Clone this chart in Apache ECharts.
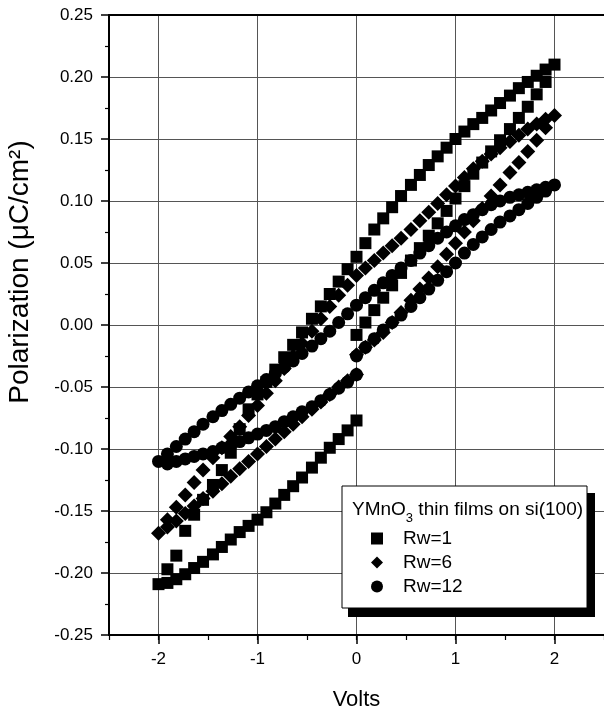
<!DOCTYPE html>
<html>
<head>
<meta charset="utf-8">
<script src="https://cdn.jsdelivr.net/npm/echarts@6/dist/echarts.min.js"></script>
<style>
html,body{margin:0;padding:0;background:#fff;}
#chart{width:604px;height:711px;}
</style>
</head>
<body>
<div id="chart"></div>
<script>
// Voltage sweep: 0 -> +2 -> -2 -> 0
var volts = [
  0.00, 0.09, 0.18, 0.27, 0.36, 0.45, 0.55, 0.64, 0.73, 0.82, 0.91, 1.00, 1.09, 1.18, 1.27, 1.36, 1.45, 1.55, 1.64, 1.73, 1.82, 1.91, 2.00,
  1.91, 1.82, 1.73, 1.64, 1.55, 1.45, 1.36, 1.27, 1.18, 1.09, 1.00, 0.91, 0.82, 0.73, 0.64, 0.55, 0.45, 0.36, 0.27, 0.18, 0.09, 0.00,
  -0.09, -0.18, -0.27, -0.36, -0.45, -0.55, -0.64, -0.73, -0.82, -0.91, -1.00, -1.09, -1.18, -1.27, -1.36, -1.45, -1.55, -1.64, -1.73, -1.82, -1.91, -2.00,
  -1.91, -1.82, -1.73, -1.64, -1.55, -1.45, -1.36, -1.27, -1.18, -1.09, -1.00, -0.91, -0.82, -0.73, -0.64, -0.55, -0.45, -0.36, -0.27, -0.18, -0.09, 0.00
];
var rw1 = [
  -0.008, 0.002, 0.012, 0.022, 0.032, 0.042, 0.052, 0.062, 0.072, 0.082, 0.092, 0.102, 0.112, 0.122, 0.131, 0.140, 0.149, 0.158, 0.167, 0.176, 0.186, 0.196, 0.210,
  0.206, 0.201, 0.196, 0.191, 0.185, 0.179, 0.173, 0.167, 0.162, 0.156, 0.150, 0.143, 0.136, 0.129, 0.121, 0.113, 0.104, 0.095, 0.086, 0.077, 0.066, 0.055,
  0.045, 0.035, 0.025, 0.015, 0.005, -0.006, -0.016, -0.026, -0.036, -0.046, -0.056, -0.068, -0.084, -0.103, -0.117, -0.129, -0.141, -0.153, -0.166, -0.186, -0.197, -0.209,
  -0.208, -0.205, -0.201, -0.196, -0.191, -0.185, -0.179, -0.173, -0.167, -0.162, -0.157, -0.151, -0.144, -0.137, -0.130, -0.123, -0.115, -0.107, -0.099, -0.092, -0.085, -0.077
];
var rw6 = [
  -0.024, -0.018, -0.012, -0.006, 0.002, 0.010, 0.020, 0.029, 0.038, 0.047, 0.057, 0.066, 0.075, 0.084, 0.094, 0.104, 0.113, 0.123, 0.131, 0.140, 0.149, 0.159, 0.169,
  0.166, 0.162, 0.158, 0.153, 0.148, 0.143, 0.138, 0.132, 0.126, 0.119, 0.112, 0.105, 0.098, 0.091, 0.084, 0.077, 0.070, 0.064, 0.058, 0.052, 0.046, 0.040,
  0.032, 0.024, 0.015, 0.005, -0.005, -0.015, -0.025, -0.035, -0.045, -0.055, -0.065, -0.073, -0.082, -0.090, -0.099, -0.107, -0.117, -0.127, -0.137, -0.147, -0.157, -0.168,
  -0.163, -0.158, -0.152, -0.146, -0.140, -0.134, -0.128, -0.122, -0.116, -0.110, -0.104, -0.098, -0.092, -0.086, -0.080, -0.074, -0.068, -0.062, -0.056, -0.050, -0.045, -0.040
];
var rw12 = [
  -0.025, -0.018, -0.011, -0.004, 0.002, 0.008, 0.015, 0.022, 0.029, 0.036, 0.043, 0.050, 0.058, 0.065, 0.071, 0.077, 0.083, 0.088, 0.093, 0.098, 0.103, 0.108, 0.113,
  0.111, 0.109, 0.107, 0.105, 0.103, 0.100, 0.097, 0.093, 0.089, 0.085, 0.080, 0.075, 0.070, 0.064, 0.058, 0.052, 0.046, 0.040, 0.034, 0.028, 0.022, 0.016,
  0.009, 0.002, -0.005, -0.011, -0.017, -0.023, -0.029, -0.034, -0.039, -0.044, -0.049, -0.054, -0.059, -0.064, -0.069, -0.074, -0.080, -0.086, -0.092, -0.098, -0.104, -0.110,
  -0.112, -0.110, -0.108, -0.106, -0.104, -0.102, -0.099, -0.097, -0.094, -0.091, -0.088, -0.085, -0.082, -0.078, -0.074, -0.070, -0.066, -0.061, -0.056, -0.051, -0.046, -0.040
];
var seriesNames = ['Rw=1', 'Rw=6', 'Rw=12'];
var legendTitle = 'YMnO';
var legendTitleSub = '3';
var legendTitleRest = ' thin films on si(100)';
var xTitle = 'Volts';
var yTitle = 'Polarization (\u03bcC/cm\u00b2)';

function pairs(p) { return p.map(function (v, i) { return [volts[i], v]; }); }

var FONT = 'Liberation Sans, Arial, Helvetica, sans-serif';
var chart = echarts.init(document.getElementById('chart'), null, {renderer: 'canvas'});

var gridLine = {show: true, lineStyle: {color: '#555', width: 1}};
var legendBase = {
  orient: 'vertical', left: 371, padding: 0, itemWidth: 12, itemHeight: 12,
  textStyle: {fontFamily: FONT, fontSize: 19, color: '#000', padding: [0, 0, 0, 15]},
  itemStyle: {opacity: 1},
  selectedMode: false
};

chart.setOption({
  animation: false,
  backgroundColor: '#fff',
  grid: {left: 109, top: 15, width: 495, height: 620, containLabel: false, outerBoundsMode: 'none'},
  xAxis: [
    {
      type: 'value', position: 'bottom', min: -2.5, max: 2.5, splitNumber: 5,
      axisLine: {onZero: false, lineStyle: {color: '#000', width: 2}},
      axisTick: {inside: false, length: 9, lineStyle: {color: '#000', width: 1.5}},
      axisLabel: {showMinLabel: false, showMaxLabel: false, margin: 16, fontFamily: FONT, fontSize: 17, color: '#000'},
      splitLine: gridLine,
      name: xTitle, nameLocation: 'middle', nameGap: 54,
      nameTextStyle: {fontFamily: FONT, fontSize: 22, color: '#000'}
    },
    {
      type: 'value', position: 'bottom', min: -2.5, max: 2.5, interval: 0.5,
      axisLine: {show: false, onZero: false},
      axisTick: {show: true, inside: false, length: 5, lineStyle: {color: '#000', width: 1.2}},
      axisLabel: {show: false}, splitLine: {show: false}
    },
    {
      type: 'value', position: 'top', min: -2.5, max: 2.5,
      axisLine: {show: true, onZero: false, lineStyle: {color: '#000', width: 2}},
      axisTick: {show: false}, axisLabel: {show: false}, splitLine: {show: false}
    }
  ],
  yAxis: {
    type: 'value', min: -0.25, max: 0.25, interval: 0.05,
    axisLine: {onZero: false, lineStyle: {color: '#000', width: 2}},
    axisTick: {inside: false, length: 8, lineStyle: {color: '#000', width: 1.5}},
    minorTick: {show: true, splitNumber: 2, length: 4, lineStyle: {color: '#000', width: 1.2}},
    axisLabel: {margin: 16, fontFamily: FONT, fontSize: 17, color: '#000',
      formatter: function (v) { return v.toFixed(2); }},
    splitLine: gridLine
  },
  legend: [
    Object.assign({}, legendBase, {top: 529, data: [seriesNames[0]]}),
    Object.assign({}, legendBase, {top: 553, data: [seriesNames[1]]}),
    Object.assign({}, legendBase, {top: 577, data: [seriesNames[2]]})
  ],
  graphic: [
    {type: 'text', z: 3, x: 20, y: 272, rotation: Math.PI / 2, style: {
      text: yTitle, fontFamily: FONT, fontSize: 28, fill: '#000',
      align: 'center', verticalAlign: 'middle'
    }},
    {type: 'rect', z: 3, shape: {x: 348, y: 493, width: 247, height: 124}, style: {fill: '#000'}},
    {type: 'rect', z: 3, shape: {x: 342, y: 486, width: 245, height: 122}, style: {fill: '#fff', stroke: '#000', lineWidth: 1}},
    {type: 'text', z: 3, x: 352, y: 510, style: {
      text: '{n|' + legendTitle + '}{s|' + legendTitleSub + '}{n|' + legendTitleRest + '}',
      verticalAlign: 'middle', fill: '#000',
      rich: {
        n: {fontFamily: FONT, fontSize: 19, lineHeight: 30, fill: '#000'},
        s: {fontFamily: FONT, fontSize: 13, lineHeight: 14, verticalAlign: 'bottom', fill: '#000'}
      }
    }}
  ],
  series: [
    {name: seriesNames[0], type: 'scatter', xAxisIndex: 0, symbol: 'rect', symbolSize: 12,
      itemStyle: {color: '#000', opacity: 1}, data: pairs(rw1)},
    {name: seriesNames[1], type: 'scatter', xAxisIndex: 0, symbol: 'diamond', symbolSize: 15,
      itemStyle: {color: '#000', opacity: 1}, data: pairs(rw6)},
    {name: seriesNames[2], type: 'scatter', xAxisIndex: 0, symbol: 'circle', symbolSize: 13,
      itemStyle: {color: '#000', opacity: 1}, data: pairs(rw12)}
  ]
});
</script>
</body>
</html>
